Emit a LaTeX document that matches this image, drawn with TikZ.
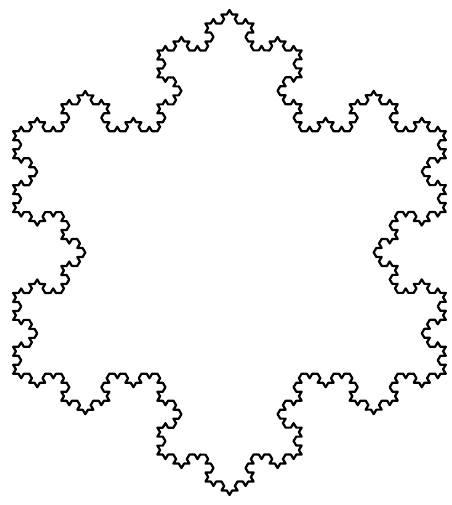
\documentclass[tikz,border=0pt]{standalone}
\usepackage{tikz}
\usetikzlibrary{decorations.fractals}

\begin{document}
\begin{tikzpicture}[
    x=1pt, y=1pt,
    flake/.style={draw, line width=2.2pt, line join=round, line cap=round,
      decoration=Koch snowflake}
]
\useasboundingbox (-229.5,-252.5) rectangle (221.5,252.5);
% snowflake, level 4, slightly wider than tall as in the scan
\begin{scope}[transform canvas={xscale=1.03}]
\draw[flake] decorate{ decorate{ decorate{ decorate{
    (0,242.5) -- (210,-121.25) -- (-210,-121.25) -- (0,242.5) }}}};
\end{scope}
\end{tikzpicture}
\end{document}
